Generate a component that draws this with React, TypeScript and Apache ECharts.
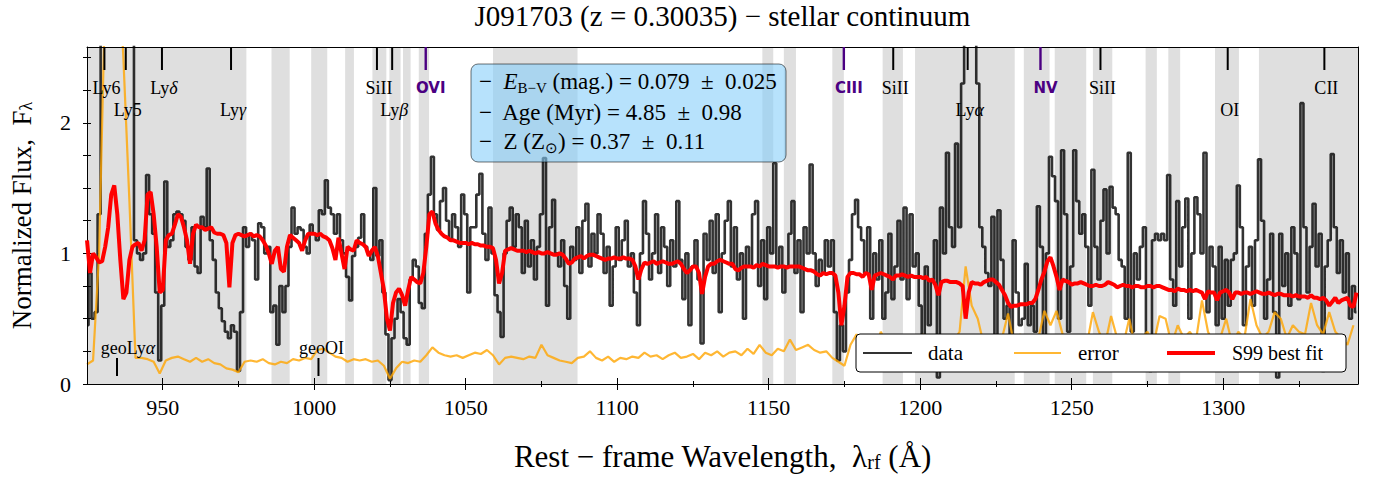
import React, { useEffect, useRef } from "react";
import * as echarts from "echarts";

// ---------- data ----------
const FLUX_START = 925; // Å, centre of first 1-Å bin
const fluxData = [
  0.45, 0.85, 0.5, 0.55, 1.3, 2.8, 4.5, 6.0, 7.0, 7.5,
  7.2, 6.5, 5.5, 4.5, 3.5, 2.7, 1.1, 1.0, 0.95, 1.0,
  1.6, 1.3, 1.15, 0.7, 0.18, 0.6, 1.55, 1.05, 1.1, 1.3,
  1.32, 1.3, 1.25, 1.05, 0.95, 1.2, 0.9, 0.85, 1.28, 1.2,
  1.65, 1.1, 0.95, 0.7, 0.58, 0.48, 0.4, 0.35, 0.45, 0.4,
  0.1, 0.55, 1.2, 1.05, 1.15, 1.1, 0.8, 1.23, 1.2, 1.0,
  1.05, 0.55, 0.6, 0.3, 0.75, 0.55, 0.75, 1.05, 1.35, 1.15,
  1.2, 1.18, 1.05, 1.0, 1.22, 1.15, 1.1, 1.33, 1.3, 1.56,
  1.35, 1.3, 1.15, 1.3, 1.1, 1.0, 0.82, 0.64, 0.98, 1.05,
  1.12, 1.3, 1.05, 1.0, 0.95, 1.5, 0.98, 1.1, 0.7, 0.38,
  0.03, 0.35, 0.5, 0.65, 0.55, 0.35, 0.3, 0.8, 0.95, 0.9,
  0.62, 0.58, 1.15, 1.45, 1.74, 1.3, 1.18, 1.4, 1.5, 1.25,
  1.1, 1.3, 1.2, 1.05, 1.45, 1.3, 0.7, 1.2, 1.2, 1.45,
  1.61, 1.15, 0.95, 1.35, 1.0, 0.68, 0.55, 0.36, 1.0, 1.25,
  1.35, 1.05, 1.3, 1.2, 0.85, 1.25, 0.9, 1.1, 0.8, 1.05,
  1.3, 1.73, 0.6, 1.2, 1.41, 1.0, 0.9, 1.1, 0.75, 0.5,
  1.05, 0.95, 1.2, 0.85, 1.25, 1.38, 0.9, 1.15, 1.0, 1.3,
  1.15, 0.85, 1.05, 0.6, 0.9, 1.2, 0.95, 1.1, 1.25, 0.9,
  1.0, 0.7, 0.45, 1.0, 1.4, 1.15, 0.8, 1.0, 1.3, 0.85,
  1.2, 1.05, 0.75, 1.1, 0.9, 1.4, 0.95, 0.65, 1.0, 0.45,
  0.9, 1.1, 0.8, 0.31, 1.15, 0.95, 1.25, 0.85, 1.3, 0.55,
  1.0, 1.25, 1.4, 0.9, 1.2, 0.8, 1.0, 0.5, 1.05, 0.9,
  1.3, 1.4, 0.75, 1.1, 0.65, 1.2, 1.0, 1.69, 0.9, 1.05,
  0.7, 0.9, 1.15, 1.4, 0.85, 1.1, 0.55, 1.2, 1.0, 1.68,
  1.0, 0.75, 0.95, 0.85, 1.1, 0.9, 1.1, 0.55, 0.18, 0.45,
  0.25, 0.7, 0.95, 1.3, 1.41, 1.2, 1.1, 0.85, 1.2, 0.5,
  1.0, 0.8, 1.1, 0.5, 0.7, 1.15, 0.65, 0.9, 1.25, 0.8,
  1.35, 0.65, 1.3, 0.9, 1.0, 0.6, 0.35, 0.9, 0.45, 0.8,
  1.1, 0.05, 1.35, 1.0, 1.77, 1.2, 1.05, 1.84, 1.2, 2.3,
  3.5, 4.2, 3.8, 3.0, 2.3, 1.2, 1.05, 0.85, 0.75, 1.28,
  0.3, 1.33, 0.95, 0.5, 0.6, 0.35, 1.1, 0.7, 0.45, 0.5,
  0.92, 0.45, 0.6, 0.4, 1.36, 1.05, 0.3, 1.0, 1.74, 1.59,
  1.4, 0.5, 1.79, 1.3, 0.4, 0.9, 1.79, 1.4, 1.15, 1.3,
  1.05, 0.6, 1.64, 1.05, 0.8, 1.25, 1.49, 1.0, 1.51, 1.35,
  1.3, 0.95, 0.9, 0.5, 1.77, 0.4, 1.0, 0.8, 1.05, 1.2,
  0.35, 0.1, 1.1, 1.15, 1.1, 1.15, 1.1, 1.6, 0.8, 0.6,
  1.4, 0.9, 1.2, 1.42, 0.5, 1.0, 1.43, 1.3, 1.0, 1.77,
  0.55, 1.05, 0.9, 0.45, 1.05, 0.5, 0.95, 0.6, 0.95, 1.0,
  1.52, 1.2, 0.45, 0.9, 1.05, 0.6, 1.1, 1.72, 1.25, 0.5,
  0.8, 1.15, 0.55, 0.05, 1.15, 0.75, 1.0, 0.6, 1.2, 1.0,
  0.65, 2.15, 1.2, 0.7, 1.05, 1.38, 0.9, 1.15, 0.1, 0.9,
  1.1, 1.76, 1.2, 0.85, 1.1, 0.7, 1.0, 0.5, 0.75, 0.55,
];

const ERROR_START = 925;
const ERROR_STEP = 2;
const fluxError = [
  0.15, 0.18, 1.0, 3.0, 3.5, 3.4, 2.5, 1.4, 0.2, 0.2,
  0.19, 0.17, 0.08, 0.18, 0.2, 0.21, 0.19, 0.17, 0.2, 0.17,
  0.19, 0.16, 0.15, 0.12, 0.11, 0.09, 0.17, 0.18, 0.17, 0.19,
  0.16, 0.15, 0.17, 0.16, 0.19, 0.18, 0.2, 0.19, 0.26, 0.27,
  0.24, 0.21, 0.2, 0.17, 0.19, 0.18, 0.19, 0.17, 0.18, 0.14,
  0.04, 0.12, 0.17, 0.16, 0.18, 0.17, 0.22, 0.28, 0.24, 0.22,
  0.21, 0.22, 0.2, 0.22, 0.24, 0.23, 0.26, 0.22, 0.15, 0.2,
  0.21, 0.2, 0.19, 0.21, 0.2, 0.3, 0.22, 0.2, 0.18, 0.17,
  0.16, 0.2, 0.21, 0.25, 0.2, 0.18, 0.21, 0.17, 0.2, 0.19,
  0.21, 0.2, 0.24, 0.21, 0.22, 0.19, 0.22, 0.24, 0.2, 0.21,
  0.23, 0.19, 0.24, 0.22, 0.25, 0.21, 0.24, 0.25, 0.22, 0.27,
  0.23, 0.3, 0.24, 0.22, 0.27, 0.25, 0.34, 0.26, 0.28, 0.3,
  0.26, 0.24, 0.25, 0.2, 0.17, 0.14, 0.3, 0.38, 0.3, 0.35,
  0.25, 0.4, 0.3, 0.28, 0.32, 0.3, 0.35, 0.3, 0.38, 0.32,
  0.35, 0.28, 0.3, 0.33, 0.4, 0.9, 0.6, 0.5, 0.3, 0.32,
  0.28, 0.35, 0.54, 0.3, 0.38, 0.32, 0.3, 0.35, 0.56, 0.45,
  0.56, 0.38, 0.33, 0.3, 0.35, 0.3, 0.55, 0.4, 0.3, 0.52,
  0.35, 0.3, 0.5, 0.28, 0.35, 0.4, 0.3, 0.52, 0.5, 0.3,
  0.45, 0.35, 0.4, 0.33, 0.64, 0.4, 0.3, 0.35, 0.5, 0.3,
  0.4, 0.35, 0.65, 0.45, 0.35, 0.4, 0.55, 0.5, 0.35, 0.45,
  0.4, 0.38, 0.62, 0.45, 0.38, 0.55, 0.4, 0.35, 0.3, 0.45,
];

const fitS99 = [
  1.1, 0.85, 1.0, 0.97, 0.93, 0.94, 1.05, 1.2, 1.45, 1.52,
  1.3, 0.95, 0.65, 0.7, 0.95, 1.05, 1.07, 1.08, 1.02, 1.1,
  1.45, 1.47, 1.3, 1.05, 0.7, 0.72, 1.1, 1.14, 1.15, 1.22,
  1.3, 1.28, 1.2, 1.1, 0.92, 1.15, 1.22, 1.2, 1.2, 1.18,
  1.19, 1.2, 1.16, 1.15, 1.15, 1.14, 1.08, 0.74, 1.08, 1.14,
  1.15, 1.14, 1.13, 1.14, 1.15, 1.13, 1.14, 1.13, 1.1, 1.06,
  1.0, 0.92, 1.02, 1.05, 0.88, 0.86, 1.05, 1.14, 1.12, 1.1,
  1.08, 1.02, 1.1, 1.15, 1.15, 1.15, 1.14, 1.15, 1.13, 1.12,
  1.1, 1.04, 0.95, 1.12, 1.0, 0.88, 1.05, 1.03, 1.02, 1.1,
  1.08, 1.07, 1.05, 0.98, 1.02, 1.05, 0.98, 0.85, 0.72, 0.5,
  0.41, 0.62, 0.7, 0.73, 0.68, 0.6, 0.72, 0.82, 0.8, 0.78,
  0.77, 0.85, 1.05, 1.3, 1.32, 1.23, 1.18, 1.15, 1.13, 1.12,
  1.1, 1.1, 1.09, 1.08, 1.08, 1.08, 1.07, 1.08, 1.07, 1.07,
  1.06, 1.06, 1.05, 1.05, 1.04, 0.95, 0.77, 0.85, 1.02, 1.03,
  1.04, 1.03, 1.02, 1.02, 1.02, 1.01, 1.02, 1.01, 1.0, 1.01,
  1.0, 1.0, 1.01, 1.0, 0.99, 0.99, 1.0, 0.99, 0.96, 0.92,
  0.93, 0.96, 0.97, 0.98, 0.96, 0.98, 0.99, 0.99, 0.98, 0.97,
  0.96, 0.95, 0.96, 0.96, 0.97, 0.96, 0.96, 0.97, 0.96, 0.96,
  0.95, 0.9, 0.8, 0.88, 0.93, 0.92, 0.93, 0.94, 0.92, 0.93,
  0.94, 0.93, 0.92, 0.92, 0.93, 0.94, 0.92, 0.88, 0.85, 0.87,
  0.9, 0.9, 0.85, 0.69, 0.82, 0.9, 0.92, 0.92, 0.94, 0.95,
  0.94, 0.93, 0.92, 0.92, 0.88, 0.87, 0.89, 0.9, 0.9, 0.9,
  0.89, 0.91, 0.9, 0.92, 0.91, 0.9, 0.9, 0.9, 0.89, 0.9,
  0.9, 0.89, 0.9, 0.9, 0.9, 0.9, 0.89, 0.88, 0.87, 0.87,
  0.86, 0.84, 0.83, 0.85, 0.84, 0.85, 0.85, 0.83, 0.7, 0.45,
  0.6, 0.82, 0.85, 0.85, 0.84, 0.84, 0.82, 0.85, 0.84, 0.72,
  0.83, 0.84, 0.85, 0.84, 0.83, 0.82, 0.8, 0.83, 0.83, 0.84,
  0.83, 0.82, 0.83, 0.82, 0.82, 0.82, 0.81, 0.82, 0.79, 0.8,
  0.76, 0.68, 0.78, 0.79, 0.79, 0.78, 0.78, 0.78, 0.77, 0.75,
  0.5, 0.7, 0.78, 0.77, 0.77, 0.76, 0.78, 0.79, 0.8, 0.8,
  0.78, 0.76, 0.72, 0.68, 0.62, 0.59, 0.6, 0.6, 0.61, 0.61,
  0.61, 0.62, 0.62, 0.65, 0.72, 0.8, 0.86, 0.94, 0.97, 0.9,
  0.82, 0.72, 0.8, 0.79, 0.78, 0.76, 0.77, 0.77, 0.78, 0.77,
  0.76, 0.75, 0.75, 0.76, 0.75, 0.75, 0.76, 0.78, 0.77, 0.76,
  0.74, 0.75, 0.76, 0.75, 0.75, 0.74, 0.75, 0.75, 0.74, 0.74,
  0.75, 0.75, 0.74, 0.75, 0.75, 0.74, 0.73, 0.72, 0.72, 0.71,
  0.73, 0.72, 0.72, 0.71, 0.72, 0.71, 0.72, 0.71, 0.7, 0.65,
  0.71, 0.7, 0.7, 0.64, 0.7, 0.71, 0.72, 0.7, 0.65, 0.7,
  0.7, 0.69, 0.7, 0.7, 0.69, 0.7, 0.71, 0.7, 0.69, 0.69,
  0.7, 0.69, 0.68, 0.69, 0.69, 0.68, 0.68, 0.68, 0.67, 0.68,
  0.67, 0.67, 0.67, 0.66, 0.68, 0.66, 0.66, 0.65, 0.66, 0.64,
  0.6, 0.63, 0.66, 0.62, 0.64, 0.65, 0.66, 0.6, 0.59, 0.7,
];

// masked (grey) wavelength windows, Å
const maskedRegions = [
  [925, 977.6], [985.9, 991.9], [999.0, 1004.3], [1010.2, 1013.1],
  [1019.2, 1023.8], [1024.8, 1028.5], [1029.3, 1031.8], [1034.5, 1037.9],
  [1059.0, 1086.9], [1147.9, 1151.5], [1155.0, 1159.0], [1171.0, 1174.8],
  [1187.6, 1194.3], [1198.3, 1231.2], [1234.2, 1242.7], [1244.4, 1254.8],
  [1257.0, 1263.4], [1274.4, 1278.1], [1281.9, 1285.8], [1297.3, 1305.2],
  [1311.8, 1344.5],
];

// spectral line identifications
const lineNames = ["Ly6", "Ly5", "Lyδ", "Lyγ", "SiII", "Lyβ", "OVI", "CIII", "SiII", "Lyα", "NV", "SiII", "OI", "CII"];
const lineWaves = [930.75, 937.8, 949.74, 972.54, 1020.7, 1025.72, 1036.8, 1174.8, 1191.1, 1215.67, 1239.7, 1259.5, 1301.5, 1333.4];
const lineRows = [0, 1, 0, 1, 0, 1, 0, 0, 0, 1, 0, 0, 1, 0];
const lineWind = [false, false, false, false, false, false, true, true, false, false, true, false, false, false];

const geoNames = ["geoLyα", "geoOI"];
const geoWaves = [934.9, 1001.4];

const xMajorTicks = [950, 1000, 1050, 1100, 1150, 1200, 1250, 1300];
const xMinorTicks = [975, 1025, 1075, 1125, 1175, 1225, 1275, 1325];
const yTicks = [0, 0.25, 0.5, 0.75, 1, 1.25, 1.5, 1.75, 2, 2.25, 2.5];
const yLabels = [0, 1, 2];

const X_MIN = 925;
const X_MAX = 1344.5;
const Y_MAX = 2.58;

const SERIF = '"Liberation Serif", "Times New Roman", serif';
const SANS = '"DejaVu Sans", sans-serif';
const PURPLE = "#4b0082";

const GRID = { left: 86, top: 47, width: 1272, height: 337 };

function greek(label: string) {
  return label.replace(/([αβγδ])/g, "{g|$1}");
}

function buildOption() {
  const tickStyle = { color: "#000", width: 1 };
  const baseX = { type: "value", min: X_MIN, max: X_MAX, position: "bottom", z: 5, splitLine: { show: false } };
  const baseY = { type: "value", min: 0, max: Y_MAX, position: "left", z: 5, splitLine: { show: false } };
  return {
    animation: false,
    backgroundColor: "#fff",
    grid: { ...GRID, containLabel: false },
    xAxis: [
      {
        ...baseX,
        axisLine: { show: true, onZero: false, lineStyle: { color: "#000", width: 1 } },
        axisTick: { show: true, inside: false, length: 6, customValues: xMajorTicks, lineStyle: tickStyle },
        axisLabel: {
          show: true, customValues: xMajorTicks, margin: 12, color: "#000",
          fontFamily: SERIF, fontSize: 22, formatter: (v: number) => String(v),
        },
        name: "Rest − frame Wavelength,  λ{s|rf} (Å)",
        nameLocation: "middle",
        nameGap: 57,
        nameTextStyle: {
          fontFamily: SERIF, fontSize: 31, color: "#000",
          rich: { s: { fontFamily: SERIF, fontSize: 20, color: "#000", verticalAlign: "bottom", lineHeight: 16 } },
        },
      },
      {
        ...baseX,
        axisLine: { show: false, onZero: false },
        axisTick: { show: true, inside: true, length: 6, customValues: xMajorTicks, lineStyle: tickStyle },
        axisLabel: { show: false },
      },
      {
        ...baseX,
        axisLine: { show: false, onZero: false },
        axisTick: { show: true, inside: false, length: 3, customValues: xMinorTicks, lineStyle: tickStyle },
        axisLabel: { show: false },
      },
      {
        ...baseX,
        axisLine: { show: false, onZero: false },
        axisTick: { show: true, inside: true, length: 3, customValues: xMinorTicks, lineStyle: tickStyle },
        axisLabel: { show: false },
      },
      {
        ...baseX,
        position: "top",
        axisLine: { show: true, onZero: false, lineStyle: { color: "#000", width: 1 } },
        axisTick: { show: false },
        axisLabel: { show: false },
      },
    ],
    yAxis: [
      {
        ...baseY,
        axisLine: { show: true, onZero: false, lineStyle: { color: "#000", width: 1 } },
        axisTick: { show: true, inside: false, length: 4, customValues: yTicks, lineStyle: tickStyle },
        axisLabel: {
          show: true, customValues: yLabels, margin: 16, color: "#000",
          fontFamily: SERIF, fontSize: 22, formatter: (v: number) => String(v),
        },
        name: "Normalized Flux,  F{s|λ}",
        nameLocation: "middle",
        nameGap: 52,
        nameRotate: 90,
        nameTextStyle: {
          fontFamily: SERIF, fontSize: 27, color: "#000",
          rich: { s: { fontFamily: SERIF, fontSize: 18, color: "#000", verticalAlign: "bottom", lineHeight: 14 } },
        },
      },
      {
        ...baseY,
        axisLine: { show: false, onZero: false },
        axisTick: { show: true, inside: true, length: 4, customValues: yTicks, lineStyle: tickStyle },
        axisLabel: { show: false },
      },
      {
        ...baseY,
        position: "right",
        axisLine: { show: true, onZero: false, lineStyle: { color: "#000", width: 1 } },
        axisTick: { show: false },
        axisLabel: { show: false },
      },
    ],
    series: [
      {
        name: "masks",
        type: "line",
        xAxisIndex: 0,
        yAxisIndex: 0,
        data: [[X_MIN, -1]],
        showSymbol: false,
        lineStyle: { opacity: 0 },
        silent: true,
        z: 1,
        markArea: {
          silent: true,
          itemStyle: { color: "#dfdfdf" },
          data: maskedRegions.map(([a, b]) => [{ xAxis: a }, { xAxis: b }]),
        },
      },
      {
        name: "data",
        type: "line",
        xAxisIndex: 0,
        yAxisIndex: 0,
        step: "middle",
        showSymbol: false,
        data: fluxData.map((v, i) => [FLUX_START + i, v]),
        lineStyle: { color: "rgba(0,0,0,0.8)", width: 2.6 },
        z: 3,
      },
      {
        name: "error",
        type: "line",
        xAxisIndex: 0,
        yAxisIndex: 0,
        showSymbol: false,
        data: fluxError.map((v, i) => [ERROR_START + i * ERROR_STEP, v]),
        lineStyle: { color: "rgba(255,165,0,0.8)", width: 2.2 },
        z: 4,
      },
      {
        name: "S99 best fit",
        type: "line",
        xAxisIndex: 0,
        yAxisIndex: 0,
        showSymbol: false,
        data: fitS99.map((v, i) => [FLUX_START + i, v]),
        lineStyle: { color: "#ff0000", width: 4 },
        z: 5,
      },
    ],
  };
}

function txt(x: number, y: number, text: string, opts: any = {}) {
  return {
    type: "text",
    x,
    y,
    z: 60,
    silent: true,
    style: {
      text,
      fill: opts.fill || "#000",
      fontFamily: opts.fontFamily || SERIF,
      fontSize: opts.fontSize || 18,
      fontWeight: opts.fontWeight || "normal",
      align: opts.align || "center",
      verticalAlign: "middle",
      textAlign: opts.align || "center",
      textVerticalAlign: "middle",
      rich: opts.rich,
    },
  };
}

function buildGraphics(chart: any) {
  const px = (w: number) => chart.convertToPixel({ xAxisIndex: 0 }, w) as number;
  const top = GRID.top;
  const els: any[] = [];
  const greekRich = (size: number) => ({ g: { fontFamily: SERIF, fontStyle: "italic", fontSize: size, fill: "#000", color: "#000" } });

  // title
  const cx = (px(X_MIN) + px(X_MAX)) / 2;
  els.push(txt(cx, 16, "J091703 (z = 0.30035) − stellar continuum", { fontSize: 29 }));

  // line identifications
  lineNames.forEach((name, i) => {
    const x = px(lineWaves[i]);
    const wind = lineWind[i];
    els.push({
      type: "line", z: 60, silent: true,
      shape: { x1: x, y1: top, x2: x, y2: top + 23 },
      style: { stroke: wind ? PURPLE : "#000", lineWidth: wind ? 2.4 : 2 },
    });
    const y = lineRows[i] === 0 ? 88 : 110;
    if (wind) {
      els.push(txt(x + 5, y, name, { fontFamily: SANS, fontWeight: "bold", fontSize: 15, fill: PURPLE }));
    } else {
      els.push(txt(x + 2, y, greek(name), { fontSize: 18, rich: greekRich(18) }));
    }
  });

  // geocoronal lines
  geoNames.forEach((name, i) => {
    const x = px(geoWaves[i]);
    els.push({
      type: "line", z: 60, silent: true,
      shape: { x1: x, y1: 358, x2: x, y2: 376 },
      style: { stroke: "#000", lineWidth: 2 },
    });
    els.push(txt(x + (i === 0 ? 11 : 3), 348, greek(name), { fontSize: 18, rich: greekRich(18) }));
  });

  // parameter box
  els.push({
    type: "rect", z: 55, silent: true,
    shape: { x: 471, y: 64, width: 315, height: 98, r: 7 },
    style: { fill: "rgba(135,206,250,0.6)", stroke: "rgba(0,0,0,0.55)", lineWidth: 1 },
  });
  const boxRich = {
    n: { fontFamily: SERIF, fontSize: 23, fill: "#000", color: "#000", lineHeight: 28, verticalAlign: "middle" },
    i: { fontFamily: SERIF, fontSize: 23, fontStyle: "italic", fill: "#000", color: "#000", lineHeight: 28, verticalAlign: "middle" },
    s: { fontFamily: SERIF, fontSize: 15, fill: "#000", color: "#000", lineHeight: 18, verticalAlign: "bottom" },
  };
  els.push(txt(479, 81, "{n|−  }{i|E}{s|B−V}{n| (mag.) = 0.079  ±  0.025}", { align: "left", rich: boxRich, fontSize: 23 }));
  els.push(txt(479, 112, "{n|−  Age (Myr) = 4.85  ±  0.98}", { align: "left", rich: boxRich, fontSize: 23 }));
  els.push(txt(479, 141, "{n|−  Z (Z}{s|⊙}{n|) = 0.37  ±  0.11}", { align: "left", rich: boxRich, fontSize: 23 }));

  // legend
  els.push({
    type: "rect", z: 70, silent: true,
    shape: { x: 856, y: 334, width: 490, height: 38, r: 4 },
    style: { fill: "#fff", stroke: "#000", lineWidth: 1 },
  });
  const ly = 353;
  els.push({ type: "line", z: 71, silent: true, shape: { x1: 863, y1: ly, x2: 912, y2: ly }, style: { stroke: "rgba(0,0,0,0.8)", lineWidth: 2 } });
  els.push({ ...txt(928, ly, "data", { align: "left", fontSize: 21 }), z: 71 });
  els.push({ type: "line", z: 71, silent: true, shape: { x1: 1014, y1: ly, x2: 1061, y2: ly }, style: { stroke: "rgba(255,165,0,0.8)", lineWidth: 2 } });
  els.push({ ...txt(1078, ly, "error", { align: "left", fontSize: 21 }), z: 71 });
  els.push({ type: "line", z: 71, silent: true, shape: { x1: 1167, y1: ly, x2: 1215, y2: ly }, style: { stroke: "#ff0000", lineWidth: 4 } });
  els.push({ ...txt(1232, ly, "S99 best fit", { align: "left", fontSize: 20 }), z: 71 });

  return els;
}

export default function App() {
  const ref = useRef<HTMLDivElement>(null);
  useEffect(() => {
    if (!ref.current) return;
    const chart = echarts.init(ref.current, null, { renderer: "svg" });
    chart.setOption(buildOption() as any);
    chart.setOption({ graphic: { elements: buildGraphics(chart) } } as any);
    return () => chart.dispose();
  }, []);
  return (
    <div
      ref={ref}
      style={{ position: "fixed", left: 0, top: 0, width: 1377, height: 482, background: "#fff" }}
    />
  );
}
